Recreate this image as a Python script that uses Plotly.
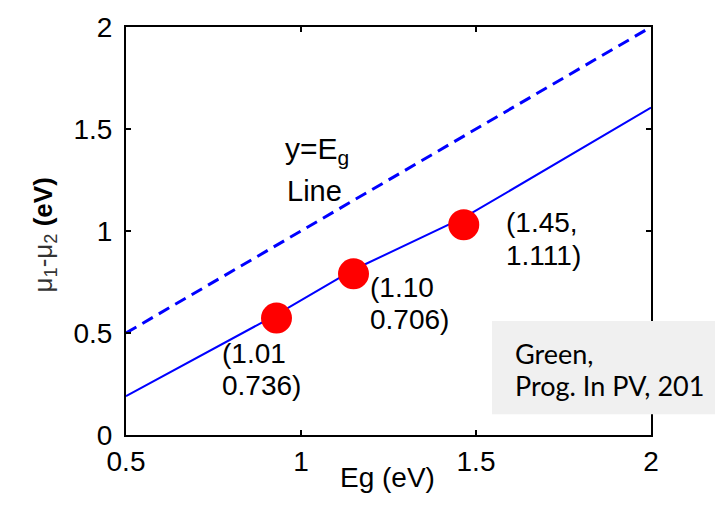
import plotly.graph_objects as go

# ---- data ----
eg_line = [0.5, 2.0]                     # y = Eg reference line
mu_line_x = [0.5, 0.93, 1.15, 1.47, 2.0]  # computed mu1-mu2 curve
mu_line_y = [0.19, 0.59, 0.81, 1.07, 1.605]
pts_x = [0.93, 1.15, 1.465]               # highlighted points
pts_y = [0.573, 0.79, 1.031]
pt_labels = [["(1.01", "0.736)"], ["(1.10", "0.706)"], ["(1.45,", "1.111)"]]
x_ticks = [0.5, 1, 1.5, 2]
y_ticks = [0, 0.5, 1, 1.5, 2]

W, H = 715, 514
L, R, T, B = 126, 64, 20, 79
PW, PH = W - L - R, H - T - B


def px(x, y):
    """pixel position -> paper coordinates"""
    return (x - L) / PW, (H - B - y) / PH


FONT = "Liberation Sans, Arial, sans-serif"

fig = go.Figure()
fig.add_trace(go.Scatter(x=eg_line, y=eg_line, mode="lines",
                         line=dict(color="#0000ff", width=3, dash="12px,7px"),
                         hoverinfo="skip"))
fig.add_trace(go.Scatter(x=mu_line_x, y=mu_line_y, mode="lines",
                         line=dict(color="#0000ff", width=2), hoverinfo="skip"))
fig.add_trace(go.Scatter(x=pts_x, y=pts_y, mode="markers",
                         marker=dict(color="#ff0000", size=31, line=dict(width=0))))

axis_common = dict(showline=True, linecolor="black", linewidth=2, mirror="ticks",
                   ticks="inside", ticklen=5, tickwidth=2, tickcolor="black",
                   showgrid=False, zeroline=False,
                   tickfont=dict(family=FONT, size=28, color="black"))
fig.update_xaxes(range=[0.5, 2], tickvals=x_ticks, ticktext=["0.5", "1", "1.5", "2"],
                 **axis_common)
fig.update_yaxes(range=[0, 2], tickvals=y_ticks, ticktext=["0", "0.5", "1", "1.5", "2"],
                 ticklabelstandoff=6, **axis_common)

ann = []
# axis titles
x0, y0 = px(387, 496)
ann.append(dict(x=x0, y=y0, xref="paper", yref="paper", text="Eg (eV)",
                showarrow=False, font=dict(family=FONT, size=28, color="black")))
x0, y0 = px(44, 232)
ann.append(dict(x=x0, y=y0, xref="paper", yref="paper", textangle=-90,
                xanchor="center", yanchor="middle",
                text="<span style='color:#333'>μ<sub>1</sub>-μ<sub>2</sub></span> <b>(eV)</b>",
                showarrow=False, font=dict(family=FONT, size=26, color="black")))
# y=Eg line label
x0, y0 = px(283, 146)
ann.append(dict(x=x0, y=y0, xref="paper", yref="paper", xanchor="left", yanchor="middle",
                text="y=E<sub>g</sub>", showarrow=False,
                font=dict(family=FONT, size=30, color="black")))
x0, y0 = px(285, 187)
ann.append(dict(x=x0, y=y0, xref="paper", yref="paper", xanchor="left", yanchor="middle",
                text="Line", showarrow=False,
                font=dict(family=FONT, size=29, color="black")))
# point labels (one annotation per line)
label_pos = [(220, 352), (368, 285), (504, 219)]
for (lx, ly), lines in zip(label_pos, pt_labels):
    for i, t in enumerate(lines):
        x0, y0 = px(lx, ly + 33 * i)
        ann.append(dict(x=x0, y=y0, xref="paper", yref="paper", xanchor="left",
                        yanchor="middle", text=t, showarrow=False,
                        font=dict(family=FONT, size=28, color="black")))
# citation box
for i, t in enumerate(["Green,", "Prog. In PV, 201"]):
    x0, y0 = px(513, 352 + 33 * i)
    ann.append(dict(x=x0, y=y0, xref="paper", yref="paper", xanchor="left",
                    yanchor="middle", text=t, showarrow=False,
                    font=dict(family="Lato, sans-serif", size=27, color="black")))

bx0, by0 = px(492, 414)
bx1, by1 = px(715, 319)
fig.add_shape(type="rect", xref="paper", yref="paper", x0=bx0, y0=by0, x1=bx1, y1=by1,
              fillcolor="#f0f0f0", line=dict(width=0), layer="above")

fig.update_layout(width=W, height=H, margin=dict(l=L, r=R, t=T, b=B),
                  plot_bgcolor="white", paper_bgcolor="white", showlegend=False,
                  annotations=ann)
fig.write_html("out.html")
